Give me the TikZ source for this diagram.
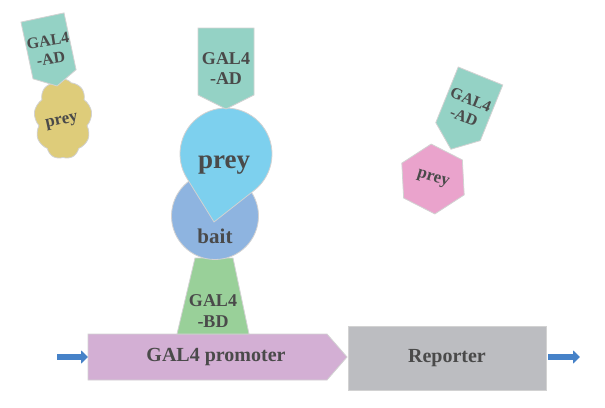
\documentclass[tikz,border=0pt]{standalone}
\usepackage{fontspec}
\setmainfont{Liberation Serif}
\usetikzlibrary{arrows.meta,shapes.symbols,shapes.geometric}
\definecolor{promc}{HTML}{D3AFD4}
\definecolor{repc}{HTML}{BCBDC1}
\definecolor{adc}{HTML}{94D2C5}
\definecolor{bdc}{HTML}{99D099}
\definecolor{baitc}{HTML}{8EB4E0}
\definecolor{preyb}{HTML}{7DD0EE}
\definecolor{preyy}{HTML}{DECC7A}
\definecolor{preyp}{HTML}{EAA3CC}
\definecolor{arrc}{HTML}{4682C8}
\definecolor{edgec}{HTML}{D2D2D2}
\definecolor{txtc}{HTML}{4A4A4A}
\begin{document}
\begin{tikzpicture}[x=1pt,y=-1pt,
  shp/.style={draw=edgec,line width=0.8pt},
  lbl/.style={text=txtc,font=\bfseries,inner sep=0pt,align=center},
  blockarr/.style={draw=arrc,line width=5.5pt,-{Triangle[length=7pt,width=13pt]}}]
\useasboundingbox (0,0) rectangle (605,407);
\fill[white] (0,0) rectangle (605,407);

% promoter and reporter
\draw[shp,fill=promc] (88,334) -- (327,334) -- (347,357) -- (327,380) -- (88,380) -- cycle;
\node[lbl,font=\bfseries\fontsize{20}{22}\selectfont] (prom) at (216,357) {GAL4 promoter};
\coordinate (promW) at (88,357);
\node[shp,fill=repc,rectangle,minimum width=198pt,minimum height=64pt,inner sep=0pt,
      text=txtc,font=\bfseries\fontsize{20}{22}\selectfont] (rep) at (447,358) {Reporter};
\coordinate (lin) at (57,357);
\coordinate (rout) at (580,357);
\draw[blockarr] (lin) -- (promW);
\draw[blockarr,shorten <=2pt] (rep.east |- rout) -- (rout);

% GAL4-BD
\draw[shp,fill=bdc] (177,334) -- (195,258) -- (233,258) -- (249,334) -- cycle;
\node[lbl,font=\bfseries\fontsize{18}{21}\selectfont] (bd) at (213,311) {GAL4\\-BD};

% bait
\draw[shp,fill=baitc] (215,216) circle[radius=43.5];
\node[lbl,font=\bfseries\fontsize{21}{23}\selectfont] (bait) at (215,236) {bait};

% prey teardrop
\begin{scope}[shift={(226,154)},rotate=-10]
\draw[shp,fill=preyb] (0,69) -- (34.3,30.7) arc[start angle=41.8,end angle=-221.8,radius=46] -- cycle;
\end{scope}
\node[lbl,font=\bfseries\fontsize{27}{29}\selectfont] (preym) at (224,165) {prey};

% middle GAL4-AD
\draw[shp,fill=adc] (198,28) -- (254,28) -- (254,95) -- (226,109) -- (198,95) -- cycle;
\node[lbl,font=\bfseries\fontsize{18}{20}\selectfont] (adm) at (226,69) {GAL4\\-AD};

% top-left yellow prey with AD
\node[cloud,cloud puffs=9,cloud puff arc=100,aspect=0.72,shp,fill=preyy,
      minimum width=58pt,minimum height=80pt,inner sep=0pt] (cloudy) at (63,119) {};
\node[lbl,rotate=12,font=\bfseries\fontsize{17}{19}\selectfont] (preyl) at (62,122) {prey};
\begin{scope}[shift={(42.5,17.5)},rotate=12]
\draw[shp,fill=adc] (-22,0) -- (22,0) -- (22,58) -- (0,70) -- (-22,58) -- cycle;
\node[lbl,rotate=9,font=\bfseries\fontsize{16}{18.5}\selectfont] (adl) at (0,33) {GAL4\\-AD};
\end{scope}

% right pink prey with AD
\node[regular polygon,regular polygon sides=6,shape border rotate=30,rotate=3,
      minimum size=70pt,inner sep=0pt,shp,fill=preyp] (hex) at (433,179) {};
\node[lbl,rotate=-17,font=\bfseries\fontsize{17}{19}\selectfont] (preyr) at (433,179) {prey};
\begin{scope}[shift={(480.5,76)},rotate=-22]
\draw[shp,fill=adc] (-24,0) -- (24,0) -- (24,60) -- (0,79) -- (-24,60) -- cycle;
\node[lbl,rotate=-22,font=\bfseries\fontsize{16}{18.5}\selectfont] (adr) at (0,35) {GAL4\\-AD};
\end{scope}
\end{tikzpicture}
\end{document}
